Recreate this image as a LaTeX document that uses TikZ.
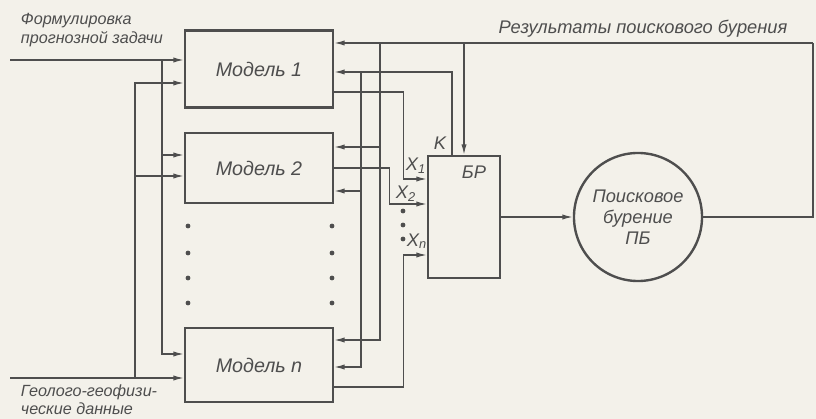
\documentclass[tikz,border=0pt]{standalone}
\usepackage{fontspec}
\setmainfont{Liberation Sans}
\usepackage{tikz}
\usepackage{xcolor}
\usetikzlibrary{arrows.meta, calc, shapes.geometric}
\definecolor{Paper}{HTML}{F3F1EA}
\definecolor{Ink}{HTML}{4E4E4E}

\begin{document}
\begin{tikzpicture}[x=0.025cm, y=-0.025cm,
    font=\fontsize{13}{14}\selectfont\itshape, text=Ink,
    model/.style={draw=Ink, line width=1.7pt, minimum width=3.7cm, inner sep=0pt,
                  font=\fontsize{14}{15}\selectfont\itshape},
    side/.style={anchor=west, align=left, font=\fontsize{11.5}{13}\selectfont\itshape},
    wire/.style={draw=Ink, line width=0.9pt},
    feed/.style={wire, -{Latex[length=2.6mm, width=1.3mm]}},
    ddot/.style={circle, fill=Ink, inner sep=0pt, minimum size=3.4pt}]

    % All coordinates in pixels of the 816 x 419 sheet, y pointing down
    \useasboundingbox (0,0) rectangle (816,419);
    \fill[Paper] (0,0) rectangle (816,419);

    % === Models, decision block, drilling ===
    \node[model, minimum height=1.925cm] (m1) at (259,69) {Модель 1};
    \node[model, minimum height=1.75cm] (m2) at (259,168) {Модель 2};
    \node[model, minimum height=1.85cm] (mn) at (259,365) {Модель n};
    \node[model, minimum width=1.8cm, minimum height=3.05cm] (br) at (464,217) {};
    \node (brtext) at (474,172) {БР};
    \node[draw=Ink, circle, line width=1.7pt, minimum size=3.2cm, align=center,
          font=\fontsize{13}{15}\selectfont\itshape] (pb) at (638,217) {Поисковое\\бурение\\ПБ};

    % === Inputs on the left ===
    \node[side] (fztext) at (16,30) {Формулировка\\прогнозной задачи};
    \node[side] (gdtext) at (16,400) {Геолого-геофизи-\\ческие данные};
    \coordinate (fz) at (10,60);
    \coordinate (gd) at (10,378);
    \coordinate (fzbus) at (162,60);
    \coordinate (gdbus) at (135,378);
    \draw[feed] (fz) -- (fz -| m1.west);
    \draw[feed] (fzbus) |- ($(m2.west)+(0,-13)$);
    \draw[feed] (fzbus) |- ($(mn.west)+(0,-11)$);
    \draw[feed] (gd) -- (gd -| mn.west);
    \draw[feed] (gdbus) |- ($(m1.west)+(0,14)$);
    \draw[feed] (gdbus) |- ($(m2.west)+(0,8)$);

    % === Results of drilling fed back ===
    \node (restext) at (643,29) {Результаты поискового бурения};
    \coordinate (res) at (813,43);
    \coordinate (resbus) at (380,43);
    \coordinate (resbr) at (464,43);
    \draw[wire] (pb.east) -| (res);
    \draw[feed] (res) -- (res -| m1.east);
    \draw[feed] (resbr) -- (resbr |- br.north);
    \draw[feed] (resbus) |- ($(m2.east)+(0,-21)$);
    \draw[feed] (resbus) |- ($(mn.east)+(0,-25)$);

    % === K from the decision block ===
    \coordinate (kup) at (452,72);
    \coordinate (kbus) at (361,72);
    \node (ktext) at (440,143) {K};
    \draw[feed] (kup |- br.north) -- (kup) -- (kup -| m1.east);
    \draw[feed] (kbus) |- ($(m2.east)+(0,23)$);
    \draw[feed] (kbus) |- ($(mn.east)+(0,2)$);

    % === Model outputs X1 ... Xn ===
    \coordinate (x1) at ($(br.west)+(0,-38)$);
    \coordinate (x2) at ($(br.west)+(0,-13)$);
    \coordinate (xn) at ($(br.west)+(0,38)$);
    \draw[feed] ($(m1.east)+(0,23)$) -| ($(x1)+(-23,0)$) -- (x1);
    \draw[feed] (m2.east) -| ($(x2)+(-37,0)$) -- (x2);
    \draw[feed] ($(mn.east)+(0,22)$) -| ($(xn)+(-23,0)$) -- (xn);
    \node (x1text) at (416,166) {X\textsubscript{1}};
    \node (x2text) at (406,194) {X\textsubscript{2}};
    \node (xntext) at (417,241) {X\textsubscript{n}};
    \foreach \y in {211,225,239}
        \node[ddot] (xd\y) at (403,\y) {};

    \draw[feed] (br) -- (pb);

    % === Dots for the omitted models ===
    \foreach \y in {226,253,278,303} {
        \node[ddot] (ld\y) at (188,\y) {};
        \node[ddot] (rd\y) at (332,\y) {};
    }

\end{tikzpicture}
\end{document}
